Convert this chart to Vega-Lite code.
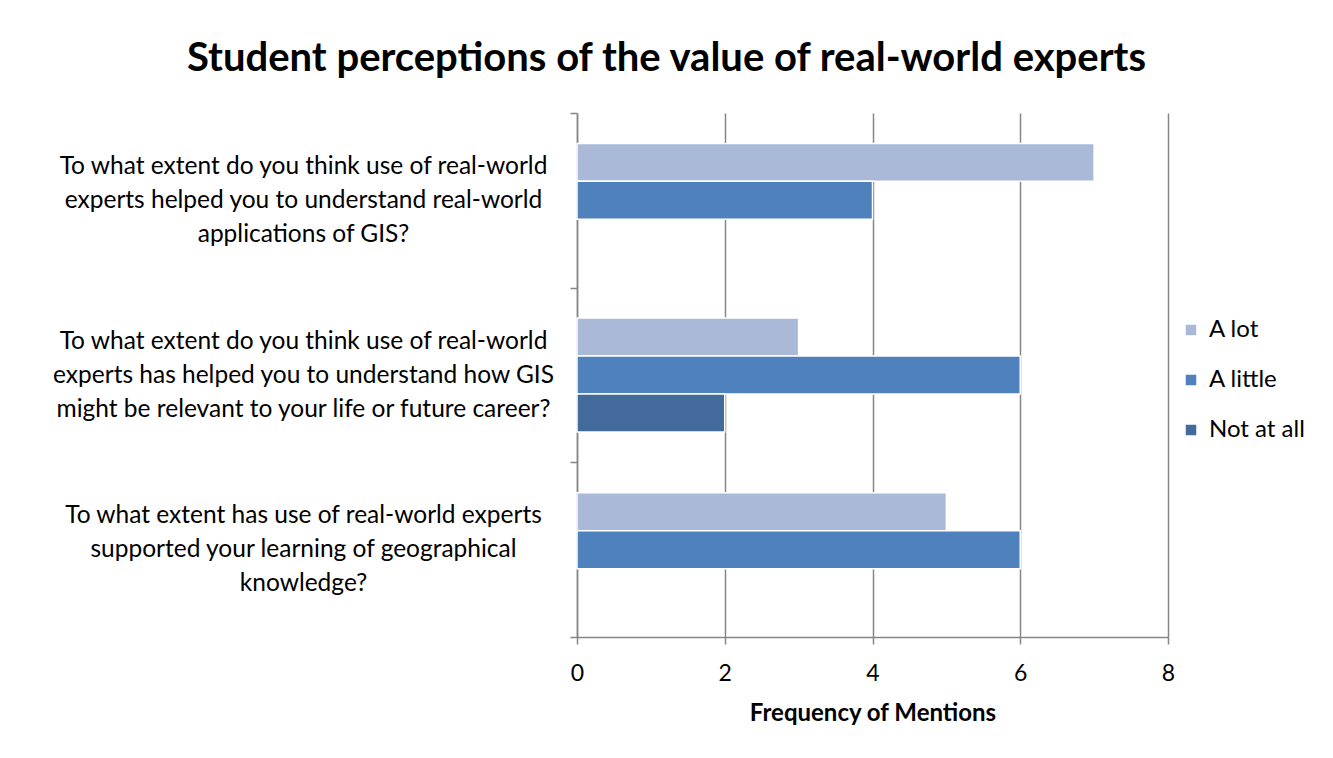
{
  "$schema": "https://vega.github.io/schema/vega-lite/v6.json",
  "autosize": {"type": "none"},
  "width": 591,
  "height": 524,
  "padding": {"left": 577, "top": 113, "right": 165, "bottom": 121},
  "background": "white",
  "title": {
    "text": "Student perceptions of the value of real-world experts",
    "font": "Lato",
    "fontSize": 40,
    "fontWeight": "bold",
    "color": "#000000",
    "anchor": "middle",
    "frame": "group",
    "dx": -206,
    "offset": 21
  },
  "data": {
    "values": [
      {"question": "To what extent do you think use of real-world|experts helped you to understand real-world|applications of GIS?", "response": "A lot", "count": 7},
      {"question": "To what extent do you think use of real-world|experts helped you to understand real-world|applications of GIS?", "response": "A little", "count": 4},
      {"question": "To what extent do you think use of real-world|experts has helped you to understand how GIS|might be relevant to your life or future career?", "response": "A lot", "count": 3},
      {"question": "To what extent do you think use of real-world|experts has helped you to understand how GIS|might be relevant to your life or future career?", "response": "A little", "count": 6},
      {"question": "To what extent do you think use of real-world|experts has helped you to understand how GIS|might be relevant to your life or future career?", "response": "Not at all", "count": 2},
      {"question": "To what extent has use of real-world experts|supported your learning of geographical|knowledge?", "response": "A lot", "count": 5},
      {"question": "To what extent has use of real-world experts|supported your learning of geographical|knowledge?", "response": "A little", "count": 6}
    ]
  },
  "mark": {"type": "bar", "stroke": "white", "strokeWidth": 1.5},
  "encoding": {
    "y": {
      "field": "question",
      "type": "nominal",
      "sort": null,
      "scale": {"paddingInner": 0, "paddingOuter": 0},
      "axis": {
        "title": null,
        "tickBand": "extent",
        "tickSize": 7,
        "tickColor": "#868686",
        "tickWidth": 1.5,
        "domainColor": "#868686",
        "domainWidth": 1.5,
        "labelExpr": "split(datum.label, '|')",
        "labelAlign": "center",
        "labelBaseline": "middle",
        "labelPadding": 267,
        "labelOffset": -34,
        "labelFont": "Lato",
        "labelFontSize": 24.5,
        "labelLineHeight": 34,
        "labelColor": "#000000",
        "labelLimit": 600
      }
    },
    "yOffset": {
      "field": "response",
      "type": "nominal",
      "scale": {"domain": ["A lot", "A little", "Not at all"], "paddingInner": 0, "paddingOuter": 0.8}
    },
    "x": {
      "field": "count",
      "type": "quantitative",
      "scale": {"domain": [0, 8]},
      "axis": {
        "title": "Frequency of Mentions",
        "titleFont": "Lato",
        "titleFontSize": 24,
        "titleFontWeight": "bold",
        "titleColor": "#000000",
        "titlePadding": 16,
        "values": [0, 2, 4, 6, 8],
        "tickSize": 7,
        "tickColor": "#868686",
        "tickWidth": 1.5,
        "domainColor": "#868686",
        "domainWidth": 1.5,
        "grid": true,
        "gridColor": "#868686",
        "gridWidth": 1.5,
        "labelFlush": false,
        "labelFont": "Lato",
        "labelFontSize": 23,
        "labelColor": "#000000",
        "labelPadding": 18
      }
    },
    "color": {
      "field": "response",
      "type": "nominal",
      "scale": {"domain": ["A lot", "A little", "Not at all"], "range": ["#AAB9D8", "#4F81BD", "#426A9B"]},
      "legend": {
        "title": null,
        "orient": "none",
        "legendX": 602,
        "legendY": 205,
        "padding": 0,
        "symbolType": "square",
        "symbolSize": 110,
        "symbolStrokeWidth": 0,
        "labelFont": "Lato",
        "labelFontSize": 24,
        "labelColor": "#000000",
        "labelOffset": 6,
        "rowPadding": 26
      }
    }
  },
  "config": {"view": {"stroke": null}}
}
